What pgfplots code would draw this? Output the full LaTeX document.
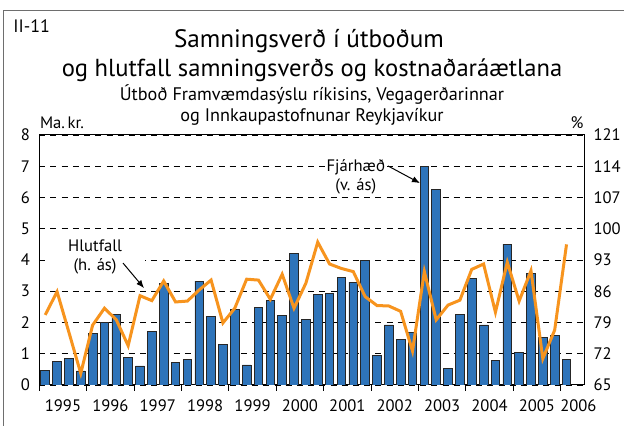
\documentclass[border=0pt]{standalone}
\usepackage{fontspec}
\setmainfont{PT Sans}
\usepackage{pgfplots}
\usepackage{pgfplotstable}
\pgfplotsset{compat=1.18}
\usetikzlibrary{arrows.meta}

\definecolor{barblue}{RGB}{46,116,186}
\definecolor{lineorange}{RGB}{247,148,30}
\definecolor{framegray}{RGB}{110,110,110}

% quarter index (centre), contract value (bn kr.), ratio to cost estimate (%)
\pgfplotstableread{
x    amt   pct
0.5  0.46  80.7
1.5  0.76  85.9
2.5  0.86  76.8
3.5  0.45  67.6
4.5  1.66  78.4
5.5  2.00  82.2
6.5  2.25  79.6
7.5  0.87  73.8
8.5  0.61  85.0
9.5  1.70  83.9
10.5 3.25  88.3
11.5 0.73  83.6
12.5 0.83  83.8
13.5 3.32  86.3
14.5 2.20  88.5
15.5 1.29  78.9
16.5 2.41  82.2
17.5 0.64  88.7
18.5 2.47  88.5
19.5 2.71  84.2
20.5 2.23  89.8
21.5 4.20  82.2
22.5 2.10  87.8
23.5 2.91  97.0
24.5 2.93  92.1
25.5 3.45  91.1
26.5 3.29  90.4
27.5 3.99  84.8
28.5 0.95  82.8
29.5 1.92  82.7
30.5 1.46  81.5
31.5 1.69  72.6
32.5 6.98  90.4
33.5 6.26  79.6
34.5 0.54  82.9
35.5 2.26  84.0
36.5 3.40  90.9
37.5 1.92  92.1
38.5 0.79  81.3
39.5 4.51  92.5
40.5 1.05  83.8
41.5 3.58  90.6
42.5 1.53  70.9
43.5 1.59  77.3
44.5 0.81  96.5
}\datatable

\newcommand{\tickfont}{\fontsize{8.3}{9.5}\selectfont}

\begin{document}
\begin{tikzpicture}
\useasboundingbox (0,0) rectangle (312pt,213pt);
\draw[framegray, line width=0.6pt] (1.65pt,0) -- (1.65pt,207.75pt) -- (312pt,207.75pt);

\node[anchor=base west, inner sep=0, font=\fontsize{9}{10}\selectfont] at (6.5pt,196.5pt) {II-11};
\node[anchor=base, inner sep=0, font=\fontsize{12.6}{14}\selectfont] at (154.5pt,189pt) {Samningsverð í útboðum};
\node[anchor=base, inner sep=0, font=\fontsize{12.3}{14}\selectfont] at (156pt,174.8pt) {og hlutfall samningsverðs og kostnaðaráætlana};
\node[anchor=base, inner sep=0, font=\fontsize{9.1}{10}\selectfont] at (156pt,162.5pt) {Útboð Framvæmdasýslu ríkisins, Vegagerðarinnar};
\node[anchor=base, inner sep=0, font=\fontsize{9.1}{10}\selectfont] at (156pt,152.3pt) {og Innkaupastofnunar Reykjavíkur};
\node[anchor=base west, inner sep=0, font=\tickfont] at (19.8pt,148.5pt) {Ma.\,kr.};
\node[anchor=base, inner sep=0, font=\tickfont] at (288.5pt,148.5pt) {\%};

\begin{axis}[
  at={(19.65pt,20.5pt)}, anchor=south west,
  scale only axis, width=272.5pt, height=125pt,
  xmin=0, xmax=46, ymin=0, ymax=8,
  axis line style={black, line width=0.5pt},
  ytick={0,...,8},
  ytick style={draw=none},
  ymajorgrids,
  major grid style={black, line width=0.45pt, dash pattern=on 3pt off 2.6pt},
  xtick={2,6,...,42,45.5},
  xticklabels={1995,1996,1997,1998,1999,2000,2001,2002,2003,2004,2005,2006},
  minor xtick={0,4,...,44},
  xtick pos=left, ytick pos=left,
  tick align=outside,
  major tick length=0pt, minor tick length=3pt,
  minor x tick style={black, line width=0.5pt},
  /pgf/number format/assume math mode=true,
  xticklabel style={font=\tickfont, yshift=-3.8pt},
  yticklabel style={font=\tickfont, xshift=-1.2pt},
]
\addplot[ybar, bar width=0.73, fill=barblue, draw=black!85, line width=0.4pt]
  table[x=x, y=amt]{\datatable};
\node[fill=white, inner sep=1pt, align=center, minimum width=50pt, font=\tickfont]
  at (axis cs:4.71,4.10) {Hlutfall\\(h. ás)};
\draw[-{Latex[length=4pt,width=3.2pt]}, line width=0.5pt] (axis cs:7.07,3.90) -- (axis cs:8.84,3.10);
\node[fill=white, inner sep=1pt, align=center, font=\tickfont]
  at (axis cs:26.72,6.66) {Fjárhæð\\(v. ás)};
\draw[-{Latex[length=4pt,width=3.2pt]}, line width=0.5pt] (axis cs:29.43,7.01) -- (axis cs:32.13,6.46);
\end{axis}

\begin{axis}[
  at={(19.65pt,20.5pt)}, anchor=south west,
  scale only axis, width=272.5pt, height=125pt,
  xmin=0, xmax=46, ymin=65, ymax=121,
  axis x line=none, axis y line=right,
  y axis line style={-, black, line width=0.5pt},
  ytick={65,72,...,121},
  ytick style={draw=none},
  /pgf/number format/assume math mode=true,
  yticklabel style={font=\tickfont, xshift=-1pt},
]
\addplot[lineorange, line width=1.5pt, mark=none] table[x=x, y=pct]{\datatable};
\end{axis}
\end{tikzpicture}
\end{document}
